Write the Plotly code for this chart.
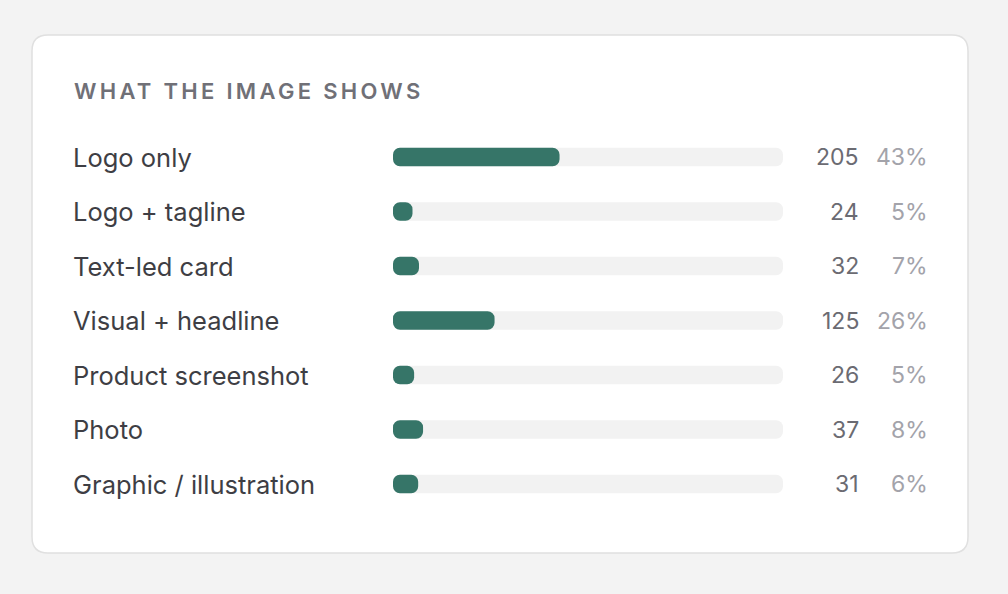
import plotly.graph_objects as go

W, H = 1008, 594

title = "WHAT THE IMAGE SHOWS"
categories = [
    "Logo only",
    "Logo + tagline",
    "Text-led card",
    "Visual + headline",
    "Product screenshot",
    "Photo",
    "Graphic / illustration",
]
counts = [205, 24, 32, 125, 26, 37, 31]

total = sum(counts)
shares = [c / total * 100 for c in counts]
pct_labels = [f"{round(s)}%" for s in shares]

FONT = "Inter, Roboto, Liberation Sans, sans-serif"
TEAL = "#367568"
TRACK = "#f2f2f2"


def px(x):
    return x / W


def py(y):
    return 1 - y / H


def rounded_rect(x0, y0, x1, y1, r):
    # path in paper coords built from pixel values (top-left origin)
    pts = [
        f"M {px(x0 + r)},{py(y0)}",
        f"L {px(x1 - r)},{py(y0)}",
        f"Q {px(x1)},{py(y0)} {px(x1)},{py(y0 + r)}",
        f"L {px(x1)},{py(y1 - r)}",
        f"Q {px(x1)},{py(y1)} {px(x1 - r)},{py(y1)}",
        f"L {px(x0 + r)},{py(y1)}",
        f"Q {px(x0)},{py(y1)} {px(x0)},{py(y1 - r)}",
        f"L {px(x0)},{py(y0 + r)}",
        f"Q {px(x0)},{py(y0)} {px(x0 + r)},{py(y0)}",
        "Z",
    ]
    return " ".join(pts)


row_top, row_step = 157, 54.5
n = len(categories)
y_top = row_top - row_step / 2
y_bot = y_top + row_step * n

fig = go.Figure()
# explicit base -> plotly rounds both ends of the bar
fig.add_trace(go.Bar(
    y=categories, x=[100] * n, base=[0] * n, orientation="h",
    marker=dict(color=TRACK, line=dict(width=0)),
    width=0.34, hoverinfo="skip", showlegend=False,
))
fig.add_trace(go.Bar(
    y=categories, x=shares, base=[0] * n, orientation="h",
    marker=dict(color=TEAL, line=dict(width=0)),
    width=0.34, showlegend=False,
    customdata=counts, hovertemplate="%{y}: %{customdata}<extra></extra>",
))

annotations = [dict(
    text=title, xref="paper", yref="paper",
    x=px(72), y=py(91), xanchor="left", yanchor="middle", align="left",
    showarrow=False, font=dict(family=FONT, size=22, color="#707077", weight=600),
)]
for cat, cnt, pct in zip(categories, counts, pct_labels):
    annotations.append(dict(
        text=cat, xref="paper", yref="y", x=px(71), y=cat,
        xanchor="left", yanchor="middle", showarrow=False,
        font=dict(family=FONT, size=25.5, color="#3e3e44"),
    ))
    annotations.append(dict(
        text=str(cnt), xref="paper", yref="y", x=px(861), y=cat,
        xanchor="right", yanchor="middle", showarrow=False,
        font=dict(family=FONT, size=23, color="#6b6b72"),
    ))
    annotations.append(dict(
        text=pct, xref="paper", yref="y", x=px(930), y=cat,
        xanchor="right", yanchor="middle", showarrow=False,
        font=dict(family=FONT, size=23, color="#a3a3aa"),
    ))

fig.update_layout(
    width=W, height=H,
    margin=dict(l=0, r=0, t=0, b=0),
    paper_bgcolor="#f3f3f3", plot_bgcolor="rgba(0,0,0,0)",
    barmode="overlay", barcornerradius=7,
    xaxis=dict(domain=[px(393), px(783)], range=[0, 100], visible=False, fixedrange=True),
    yaxis=dict(domain=[py(y_bot), py(y_top)], range=[n - 0.5, -0.5],
               visible=False, fixedrange=True),
    shapes=[dict(
        type="path", xref="paper", yref="paper", layer="below",
        path=rounded_rect(32, 35, 968, 553, 16),
        fillcolor="#ffffff", line=dict(color="#e0e0e0", width=1.5),
    )],
    annotations=annotations,
    font=dict(family=FONT),
)

post = """
document.body.style.margin = '0';
document.body.style.background = '#f3f3f3';
document.querySelectorAll('.annotation-text').forEach(function(t){
  if (t.textContent === 'WHAT THE IMAGE SHOWS') { t.style.letterSpacing = '3.3px'; }
});
"""
fig.write_html("out.html", post_script=post, config={"displayModeBar": False})
